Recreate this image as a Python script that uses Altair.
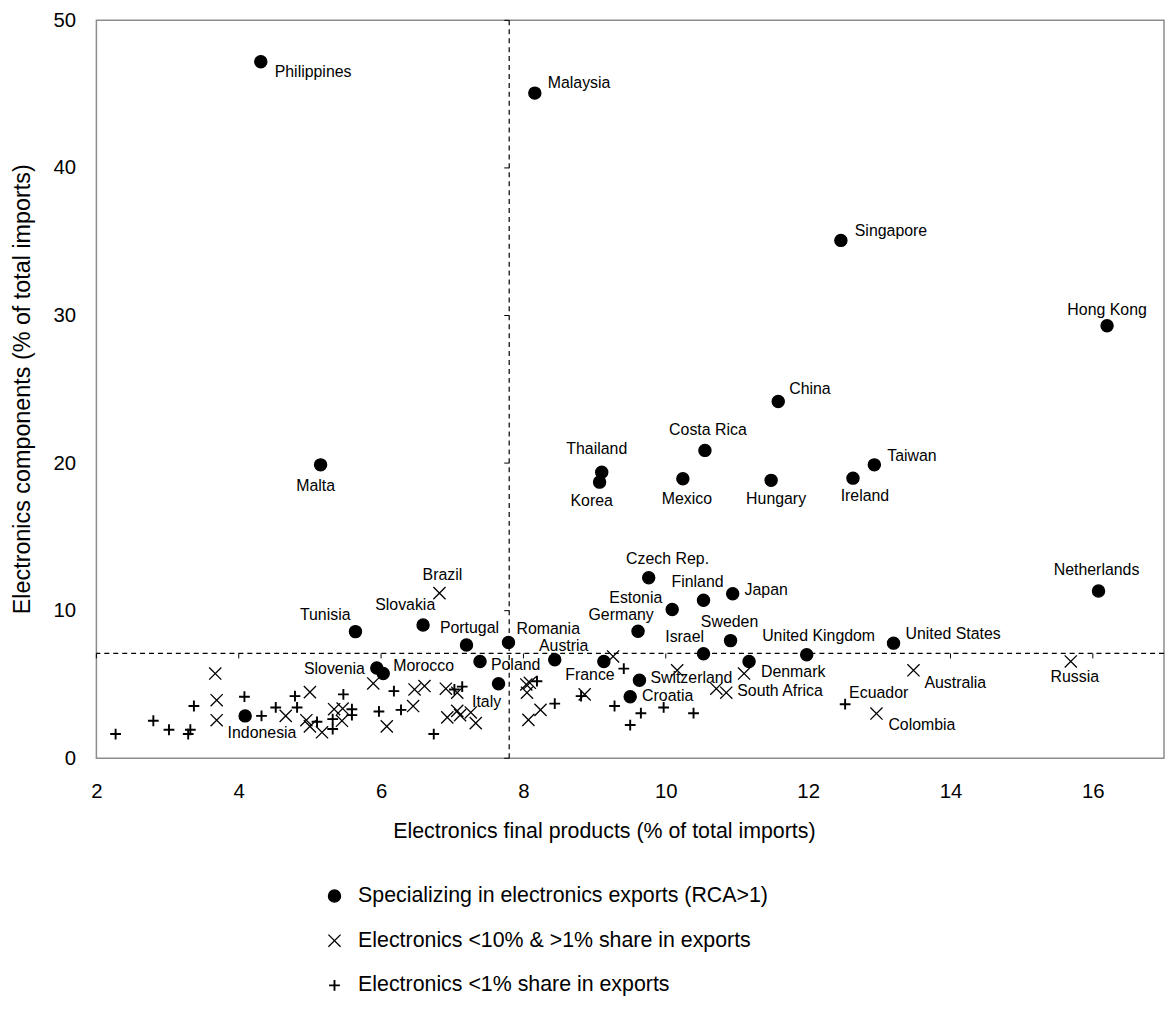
import altair as alt
import pandas as pd

# ---------------- data ----------------
GROUPS = [
    "Specializing in electronics exports (RCA>1)",
    "Electronics <10% & >1% share in exports",
    "Electronics <1% share in exports",
]

RCA_NAMES = ["Philippines", "Malaysia", "Singapore", "Hong Kong", "China", "Costa Rica",
             "Thailand", "Korea", "Mexico", "Hungary", "Ireland", "Taiwan", "Malta",
             "Netherlands", "Czech Rep.", "Finland", "Japan", "Estonia", "Germany",
             "Sweden", "Israel", "Denmark", "United Kingdom", "United States", "Romania",
             "Portugal", "Slovakia", "Poland", "Italy", "Austria", "France", "Switzerland",
             "Croatia", "Tunisia", "Slovenia", "Morocco", "Indonesia"]
RCA_X = [4.31, 8.16, 12.46, 16.20, 11.58, 10.55, 9.10, 9.07, 10.24, 11.48, 12.63, 12.93, 5.15,
         16.08, 9.76, 10.53, 10.94, 10.09, 9.61, 10.91, 10.53, 11.17, 11.98, 13.20, 7.79,
         7.20, 6.59, 7.39, 7.65, 8.44, 9.13, 9.63, 9.50, 5.64, 5.94, 6.03, 4.09]
RCA_Y = [47.2, 45.07, 35.09, 29.3, 24.17, 20.86, 19.38, 18.71, 18.94, 18.83, 18.98, 19.88, 19.88,
         11.33, 12.23, 10.70, 11.15, 10.08, 8.60, 7.97, 7.08, 6.56, 7.01, 7.80, 7.84,
         7.68, 9.03, 6.56, 5.05, 6.68, 6.56, 5.29, 4.17, 8.58, 6.12, 5.74, 2.87]

MID_NAMES = ["Brazil", "Australia", "Russia", "Colombia", "South Africa"]
MID_X = [6.82, 13.48, 15.69, 12.96, 10.85]
MID_Y = [11.19, 5.96, 6.56, 3.03, 4.44]
MID_OTHER_X = [3.67, 3.69, 3.69, 4.66, 5.00, 4.95, 5.00, 5.17, 5.34, 5.46, 5.45, 5.89, 6.47,
               6.61, 6.45, 6.08, 6.91, 7.07, 6.93, 7.07, 7.11, 7.26, 7.33, 8.04, 8.05, 8.09,
               8.24, 8.07, 8.86, 9.26, 10.16, 10.71, 11.10]
MID_OTHER_Y = [5.74, 3.93, 2.58, 2.87, 4.48, 2.58, 2.16, 1.76, 3.32, 3.37, 2.54, 5.07, 4.66,
               4.89, 3.54, 2.16, 4.71, 4.44, 2.77, 3.21, 2.92, 3.10, 2.38, 5.00, 4.44, 5.11,
               3.28, 2.60, 4.33, 6.90, 5.96, 4.71, 5.74]

LOW_NAMES = ["Ecuador"]
LOW_X = [12.52]
LOW_Y = [3.66]
LOW_OTHER_X = [2.27, 2.80, 3.02, 3.32, 3.29, 3.37, 4.08, 4.32, 4.52, 4.79, 4.82, 5.10, 5.32,
               5.32, 5.47, 5.59, 5.59, 6.18, 5.97, 6.28, 6.74, 7.03, 7.14, 8.19, 8.44, 8.81,
               9.41, 9.28, 9.65, 9.50, 9.97, 10.39]
LOW_OTHER_Y = [1.64, 2.54, 1.93, 1.93, 1.64, 3.54, 4.17, 2.87, 3.44, 4.21, 3.44, 2.47, 1.98,
               2.65, 4.33, 3.32, 2.92, 4.55, 3.17, 3.28, 1.64, 4.66, 4.85, 5.22, 3.70, 4.21,
               6.07, 3.54, 3.05, 2.25, 3.44, 3.05]

THRESH_X = 7.8
THRESH_Y = 7.1
X_TICKS = [2, 4, 6, 8, 10, 12, 14, 16]
Y_TICKS = [0, 10, 20, 30, 40, 50]

# label placement (pixel offsets from the point, text alignment)
LABEL_STYLE = {
    "Philippines": (14, 10, "left"), "Malaysia": (13, -10, "left"),
    "Singapore": (14, -9, "left"), "Hong Kong": (0, -16, "center"),
    "China": (11, -13, "left"), "Costa Rica": (3, -21, "center"),
    "Thailand": (-5, -23, "center"), "Korea": (-8, 19, "center"),
    "Mexico": (4, 20, "center"), "Hungary": (5, 19, "center"),
    "Ireland": (12, 18, "center"), "Taiwan": (13, -9, "left"),
    "Malta": (-5, 21, "center"), "Netherlands": (-2, -21, "center"),
    "Czech Rep.": (19, -19, "center"), "Finland": (-6, -18, "center"),
    "Japan": (12, -4, "left"), "Estonia": (-10, -12, "right"),
    "Germany": (-17, -16, "center"), "Sweden": (-1, -19, "center"),
    "Israel": (-19, -17, "center"), "Denmark": (12, 11, "left"),
    "United Kingdom": (12, -19, "center"), "United States": (12, -9, "left"),
    "Romania": (8, -14, "left"), "Portugal": (3, -17, "center"),
    "Slovakia": (-18, -20, "center"), "Tunisia": (-5, -17, "right"),
    "Slovenia": (-12, 1, "right"), "Morocco": (10, -8, "left"),
    "Poland": (11, 4, "left"), "Italy": (-12, 18, "center"),
    "Austria": (9, -14, "center"), "France": (-14, 14, "center"),
    "Switzerland": (11, -2, "left"), "Croatia": (12, -1, "left"),
    "Indonesia": (17, 17, "center"), "Brazil": (3, -18, "center"),
    "Australia": (11, 13, "left"), "Russia": (4, 16, "center"),
    "Colombia": (12, 12, "left"), "Ecuador": (4, -11, "left"),
    "South Africa": (11, -2, "left"),
}

# ---------------- table ----------------
rows = []
for n, x, y in zip(RCA_NAMES, RCA_X, RCA_Y):
    rows.append({"label": n, "x": x, "y": y, "group": GROUPS[0]})
for n, x, y in zip(MID_NAMES, MID_X, MID_Y):
    rows.append({"label": n, "x": x, "y": y, "group": GROUPS[1]})
for x, y in zip(MID_OTHER_X, MID_OTHER_Y):
    rows.append({"label": "", "x": x, "y": y, "group": GROUPS[1]})
for n, x, y in zip(LOW_NAMES, LOW_X, LOW_Y):
    rows.append({"label": n, "x": x, "y": y, "group": GROUPS[2]})
for x, y in zip(LOW_OTHER_X, LOW_OTHER_Y):
    rows.append({"label": "", "x": x, "y": y, "group": GROUPS[2]})
df = pd.DataFrame(rows)

FONT = "Liberation Sans"
X_PATH = "M-1,-1L1,1M-1,1L1,-1"
PLUS_PATH = ("M-0.78,-0.05L0.78,-0.05L0.78,0.05L-0.78,0.05Z"
             "M-0.05,-0.78L0.05,-0.78L0.05,0.78L-0.05,0.78Z")

x_scale = alt.Scale(domain=[2, 17], nice=False, zero=False)
y_scale = alt.Scale(domain=[0, 50], nice=False, zero=False)
x_axis = alt.Axis(values=X_TICKS, format="d", labelFlush=False,
                  title="Electronics final products (% of total imports)",
                  labelPadding=24, titleFontSize=21.5, titleX=511, titleY=74,
                  titleBaseline="middle", titleAlign="center")
y_axis = alt.Axis(values=Y_TICKS, format="d", labelFlush=False,
                  title="Electronics components (% of total imports)",
                  labelPadding=21, titleFontSize=23.5, titleX=-74, titleY=371,
                  titleAngle=-90, titleBaseline="middle", titleAlign="center")


def X(field):
    return alt.X(field, type="quantitative", scale=x_scale, axis=x_axis)


def Y(field):
    return alt.Y(field, type="quantitative", scale=y_scale, axis=y_axis)


legend = alt.Legend(title=None, orient="none", legendX=229, legendY=871,
                    direction="vertical", labelFont=FONT, labelFontSize=21.5,
                    labelColor="black", labelLimit=0, rowPadding=22, labelOffset=13,
                    symbolStrokeWidth=1.3, symbolSize=150, padding=0)

points = alt.Chart(df).mark_point(size=150, strokeWidth=1.3, opacity=1).encode(
    x=X("x"), y=Y("y"),
    shape=alt.Shape("group:N", scale=alt.Scale(domain=GROUPS, range=["circle", X_PATH, PLUS_PATH]),
                    legend=legend),
    fill=alt.Fill("group:N", scale=alt.Scale(domain=GROUPS, range=["black", "transparent", "black"]),
                  legend=legend),
    stroke=alt.Stroke("group:N", scale=alt.Scale(domain=GROUPS, range=["black", "black", "black"]),
                      legend=legend),
)

vline = alt.Chart(pd.DataFrame({"v": [THRESH_X]})).mark_rule(
    color="black", strokeWidth=1.2, strokeDash=[5, 4]).encode(x=X("v"))
hline = alt.Chart(pd.DataFrame({"v": [THRESH_Y]})).mark_rule(
    color="black", strokeWidth=1.2, strokeDash=[5, 4]).encode(y=Y("v"))

xticks = alt.Chart(pd.DataFrame({"v": X_TICKS})).mark_rule(
    color="black", strokeWidth=1, y2Offset=5).encode(
    x=X("v"), y=alt.datum(THRESH_Y), y2=alt.datum(THRESH_Y))
yticks = alt.Chart(pd.DataFrame({"v": Y_TICKS})).mark_rule(
    color="black", strokeWidth=1, xOffset=-5).encode(
    y=Y("v"), x=alt.datum(THRESH_X), x2=alt.datum(THRESH_X))

label_layers = []
for name, (dx, dy, align) in LABEL_STYLE.items():
    label_layers.append(
        alt.Chart(df).transform_filter(alt.datum.label == name).mark_text(
            dx=dx, dy=dy, align=align, baseline="middle", font=FONT, fontSize=16, color="black"
        ).encode(x=X("x"), y=Y("y"), text="label:N")
    )

chart = alt.layer(vline, hline, xticks, yticks, points, *label_layers).properties(
    width=1075, height=743,
    autosize=alt.AutoSizeParams(type="none"),
    padding={"left": 89, "top": 9, "right": 1, "bottom": 241},
).configure_view(
    stroke="#8c8c8c", strokeWidth=1.5
).configure_axis(
    grid=False, domain=False, ticks=False, tickSize=0,
    labelFont=FONT, labelFontSize=20.5, labelColor="black",
    titleFont=FONT, titleFontWeight="normal", titleColor="black",
)

chart.save("out.html", embed_options={"renderer": "svg", "actions": False})
